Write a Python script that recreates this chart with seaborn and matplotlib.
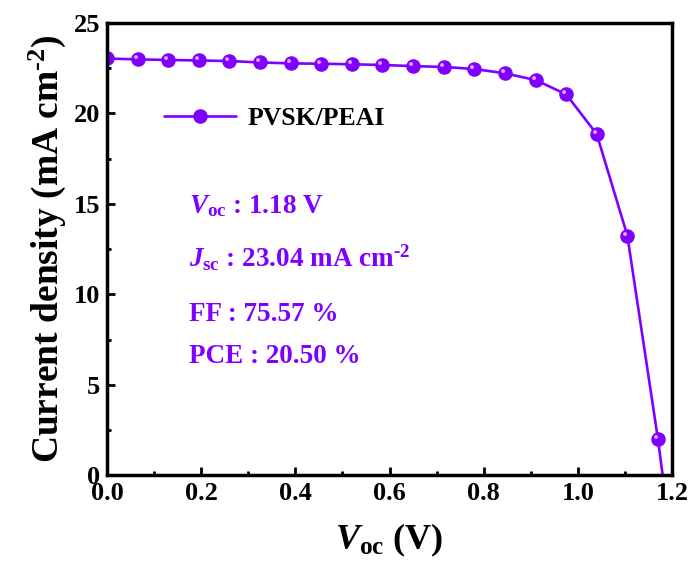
import numpy as np
import pandas as pd
import matplotlib
matplotlib.use("Agg")
import matplotlib.pyplot as plt
import seaborn as sns
from matplotlib.path import Path
from matplotlib.lines import Line2D
from matplotlib.ticker import MultipleLocator

# ---- data ----
voltage = [0.0, 0.065, 0.13, 0.195, 0.26, 0.325, 0.39, 0.455, 0.52, 0.585,
           0.65, 0.715, 0.78, 0.845, 0.91, 0.975, 1.04, 1.105, 1.17]
current = [23.04, 22.99, 22.96, 22.93, 22.90, 22.82, 22.77, 22.75, 22.72, 22.68,
           22.62, 22.57, 22.46, 22.22, 21.85, 21.06, 18.86, 13.25, 2.0]
voc_end = [1.18]
jsc_end = [0.0]
label = "PVSK/PEAI"
annotations = [r"$\mathit{V}_{\mathbf{oc}}$ : 1.18 V",
               r"$\mathit{J}_{\mathbf{sc}}$ : 23.04 mA cm$^{\text{-2}}$",
               "FF : 75.57 %",
               "PCE : 20.50 %"]

sns.set_theme(style="ticks")
plt.rcParams["font.family"] = ["Liberation Serif", "DejaVu Serif"]
plt.rcParams["font.weight"] = "bold"
plt.rcParams["mathtext.fontset"] = "custom"
plt.rcParams["mathtext.rm"] = "Liberation Serif:bold"
plt.rcParams["mathtext.bf"] = "Liberation Serif:bold"
plt.rcParams["mathtext.it"] = "Liberation Serif:italic:bold"
plt.rcParams["text.color"] = "black"
plt.rcParams["axes.labelcolor"] = "black"
plt.rcParams["xtick.color"] = "black"
plt.rcParams["ytick.color"] = "black"

purple = "#7F00FF"
light = "#D9A8FF"

df_line = pd.DataFrame({"V": voltage + voc_end, "J": current + jsc_end})
df_pts = pd.DataFrame({"V": voltage, "J": current})

fig = plt.figure(figsize=(6.95, 5.76), dpi=100)
ax = fig.add_axes([0.154, 0.175, 0.813, 0.785])

sns.lineplot(data=df_line, x="V", y="J", ax=ax, color=purple, lw=1.9,
             marker="o", markersize=10.5, markeredgewidth=0,
             markevery=list(range(len(voltage))), sort=False)

# highlight for the spheres
t = np.linspace(0, 2 * np.pi, 40)
hl_verts = np.column_stack([-0.35 + 0.28 * np.cos(t), 0.35 + 0.28 * np.sin(t)])
hl = Path(hl_verts, closed=True)
sns.scatterplot(data=df_pts, x="V", y="J", ax=ax, marker=hl, s=40,
                color=light, linewidth=0, zorder=5)

ax.set_xlim(0, 1.2)
ax.set_ylim(0, 25)
ax.xaxis.set_major_locator(MultipleLocator(0.2))
ax.xaxis.set_minor_locator(MultipleLocator(0.1))
ax.yaxis.set_major_locator(MultipleLocator(5))
ax.yaxis.set_minor_locator(MultipleLocator(2.5))
ax.tick_params(which="major", direction="in", length=6, width=2, labelsize=19,
               top=False, right=False, pad=5)
ax.tick_params(which="minor", direction="in", length=3, width=2,
               top=False, right=False)
for lab in ax.get_xticklabels() + ax.get_yticklabels():
    lab.set_fontweight("bold")
for s in ax.spines.values():
    s.set_linewidth(2.5)
    s.set_color("black")

ax.set_xlabel(r"$\mathit{V}_{\mathbf{oc}}$ (V)", fontsize=26, fontweight="bold", labelpad=12)
ax.set_ylabel(r"Current density (mA cm$^{\text{-2}}$)", fontsize=27,
              fontweight="bold", labelpad=4)

h = Line2D([], [], color=purple, lw=1.9, marker="o", markersize=10.5,
           markeredgewidth=0)
leg = ax.legend([h], [label], loc="upper left", bbox_to_anchor=(0.06, 0.865),
                frameon=False, handlelength=2.8, handletextpad=0.45,
                prop={"size": 18.5, "weight": "bold"})

ys = [0.595, 0.48, 0.355, 0.262]
for txt, yy in zip(annotations, ys):
    ax.text(0.145, yy, txt, transform=ax.transAxes, color=purple,
            fontsize=19.5, fontweight="bold", va="center", ha="left")

fig.savefig("out.png", dpi=100)
